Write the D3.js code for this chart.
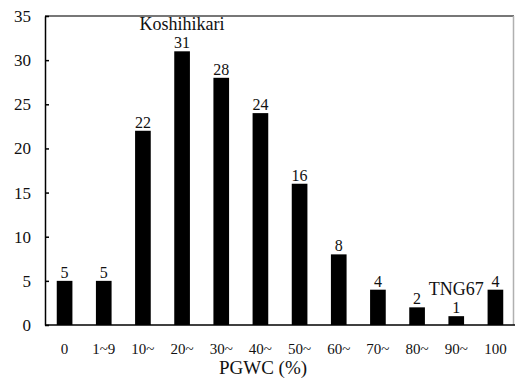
<!DOCTYPE html>
<html>
<head>
<meta charset="utf-8">
<script src="https://cdn.jsdelivr.net/npm/d3@7"></script>
<style>
  body { margin: 0; background: #fff; }
  text { font-family: "Liberation Serif", "Times New Roman", serif; fill: #111; }
</style>
</head>
<body>
<div id="chart"></div>
<script>
// data
var categories = ["0", "1~9", "10~", "20~", "30~", "40~", "50~", "60~", "70~", "80~", "90~", "100"];
var counts = [5, 5, 22, 31, 28, 24, 16, 8, 4, 2, 1, 4];
var yTicks = [0, 5, 10, 15, 20, 25, 30, 35];
var notes = [{ cat: "20~", text: "Koshihikari" }, { cat: "90~", text: "TNG67" }];

var svgWidth = 515;
var svgHeight = 379;

var margin = { top: 16, right: 0, bottom: 54, left: 45 };
var width = svgWidth - margin.left - margin.right;
var height = svgHeight - margin.top - margin.bottom;

var svg = d3.select("#chart")
    .append("svg")
    .attr("width", svgWidth)
    .attr("height", svgHeight);

var chartGroup = svg.append("g")
    .attr("transform", `translate(${margin.left}, ${margin.top})`);

var xScale = d3.scaleBand()
    .domain(categories)
    .range([0, width])
    .paddingInner(0.6)
    .paddingOuter(0.3);

var yScale = d3.scaleLinear()
    .domain([0, 35])
    .range([height, 0]);

// frame: top dark grey, right light grey
chartGroup.append("line")
    .attr("x1", 0).attr("x2", width - 1)
    .attr("y1", 0).attr("y2", 0)
    .attr("stroke", "#4a4a4a")
    .attr("stroke-width", 1.5);
chartGroup.append("line")
    .attr("x1", width - 1.5).attr("x2", width - 1.5)
    .attr("y1", 0).attr("y2", height)
    .attr("stroke", "#b0b0b0")
    .attr("stroke-width", 1.5);

// bars
chartGroup.selectAll("rect.bar")
    .data(counts)
    .enter()
    .append("rect")
    .attr("class", "bar")
    .attr("x", (d, i) => xScale(categories[i]))
    .attr("y", d => yScale(d))
    .attr("width", xScale.bandwidth())
    .attr("height", d => height - yScale(d))
    .attr("fill", "#000");

// value labels
chartGroup.selectAll("text.val")
    .data(counts)
    .enter()
    .append("text")
    .attr("class", "val")
    .attr("x", (d, i) => xScale(categories[i]) + xScale.bandwidth() / 2)
    .attr("y", d => yScale(d) - 3)
    .attr("text-anchor", "middle")
    .attr("font-size", 16)
    .text(d => d);

// variety notes
notes.forEach(function (n) {
    var i = categories.indexOf(n.cat);
    chartGroup.append("text")
        .attr("x", xScale(n.cat) + xScale.bandwidth() / 2)
        .attr("y", yScale(counts[i]) - 21)
        .attr("text-anchor", "middle")
        .attr("font-size", 18)
        .text(n.text);
});

// y axis, ticks pointing inward
var leftAxis = d3.axisLeft(yScale)
    .tickValues(yTicks)
    .tickSizeInner(-4)
    .tickSizeOuter(0)
    .tickPadding(14);

var yAxis = chartGroup.append("g")
    .call(leftAxis);
yAxis.attr("font-family", null);
yAxis.select(".domain").attr("stroke", "#000").attr("stroke-width", 1.5);
yAxis.selectAll(".tick line").attr("stroke", "#000").attr("stroke-width", 1.5);
yAxis.selectAll(".tick text")
    .attr("font-size", 17)
    .attr("fill", "#111");

// x axis, no tick marks
var bottomAxis = d3.axisBottom(xScale)
    .tickSize(0)
    .tickPadding(18);

var xAxis = chartGroup.append("g")
    .attr("transform", `translate(0, ${height})`)
    .call(bottomAxis);
xAxis.attr("font-family", null);
xAxis.select(".domain")
    .attr("d", `M0,0H${width}`)
    .attr("stroke", "#000").attr("stroke-width", 1.5);
xAxis.selectAll(".tick text")
    .attr("font-size", 15)
    .attr("fill", "#111");

// x axis title
chartGroup.append("text")
    .attr("x", 218)
    .attr("y", height + 49)
    .attr("text-anchor", "middle")
    .attr("font-size", 19)
    .text("PGWC (%)");
</script>
</body>
</html>
